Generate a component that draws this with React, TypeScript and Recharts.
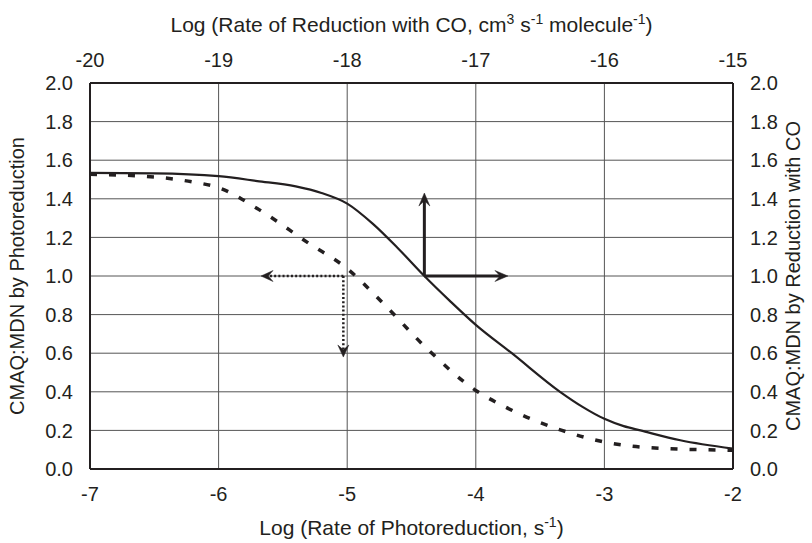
import React from 'react';
import { LineChart, Line, XAxis, YAxis, CartesianGrid, ReferenceLine } from 'recharts';

// bottom axis: Log (Rate of Photoreduction, s-1)
const bottomTicks = [-7, -6, -5, -4, -3, -2];
// top axis: Log (Rate of Reduction with CO)
const topTicks = [-20, -19, -18, -17, -16, -15];
const yTicks = [0, 0.2, 0.4, 0.6, 0.8, 1.0, 1.2, 1.4, 1.6, 1.8, 2.0];

// dashed curve: CMAQ:MDN vs photoreduction rate (bottom / left axes)
const photoX = [-7, -6.5, -6.2, -6, -5.7, -5.3, -5, -4.72, -4.38, -4, -3.77, -3.33, -3, -2.67, -2];
const photoY = [1.527, 1.513, 1.487, 1.458, 1.35, 1.17, 1.038, 0.858, 0.624, 0.407, 0.321, 0.2, 0.14, 0.111, 0.097];

// solid curve: CMAQ:MDN vs CO reduction rate (top / right axes)
const coX = [-20, -19.5, -19, -18.7, -18.4, -18.2, -18, -17.8, -17.6, -17.4, -17.2, -17, -16.72, -16.345, -16.17, -16, -15.85, -15.72, -15.41, -15];
const coY = [1.534, 1.532, 1.517, 1.492, 1.464, 1.43, 1.375, 1.27, 1.14, 1.0, 0.87, 0.747, 0.6, 0.4, 0.322, 0.26, 0.222, 0.2, 0.149, 0.106];

// annotation arrows (data units)
const coArrowOrigin = { x: -17.4, y: 1.0 };
const coArrowUpTip = { x: -17.4, y: 1.43 };
const coArrowRightTip = { x: -16.75, y: 1.0 };
const photoArrowOrigin = { x: -5.03, y: 1.0 };
const photoArrowLeftTip = { x: -5.67, y: 1.0 };
const photoArrowDownTip = { x: -5.03, y: 0.58 };

const photoData = photoX.map((x, i) => ({ x, y: photoY[i] }));
const coData = coX.map((x, i) => ({ x, y: coY[i] }));

const INK = '#231f20';
const FONT = '"Liberation Sans", Arial, Helvetica, sans-serif';

const makeArrow = (width: number, dash: string | undefined, len: number, half: number) => (p: any) => {
  const { x1, y1, x2, y2 } = p;
  if ([x1, y1, x2, y2].some((v) => typeof v !== 'number' || isNaN(v))) return null;
  const dx = x2 - x1;
  const dy = y2 - y1;
  const d = Math.sqrt(dx * dx + dy * dy) || 1;
  const ux = dx / d;
  const uy = dy / d;
  const nx = -uy;
  const ny = ux;
  const bx = x2 - ux * len;
  const by = y2 - uy * len;
  const mx = x2 - ux * len * 0.6;
  const my = y2 - uy * len * 0.6;
  const pts = [
    [x2, y2],
    [bx + nx * half, by + ny * half],
    [mx, my],
    [bx - nx * half, by - ny * half],
  ]
    .map((q) => q.join(','))
    .join(' ');
  return (
    <g>
      <line x1={x1} y1={y1} x2={mx} y2={my} stroke={INK} strokeWidth={width} strokeDasharray={dash} />
      <polygon points={pts} fill={INK} stroke={INK} strokeWidth={0.5} />
    </g>
  );
};

const solidArrow = makeArrow(3, undefined, 13, 5.5);
const dottedArrow = makeArrow(2.5, '2 2.2', 12, 5.5);

const BottomTitle = (props: any) => {
  const vb = props.viewBox;
  return (
    <text x={vb.x + vb.width / 2} y={vb.y + 66} textAnchor="middle" fontFamily={FONT} fontSize={21} fill={INK}>
      Log (Rate of Photoreduction, s
      <tspan dy={-8} fontSize={14}>-1</tspan>
      <tspan dy={8}>)</tspan>
    </text>
  );
};

const TopTitle = (props: any) => {
  const vb = props.viewBox;
  return (
    <text x={vb.x + vb.width / 2} y={vb.y + 32} textAnchor="middle" fontFamily={FONT} fontSize={21} fill={INK}>
      Log (Rate of Reduction with CO, cm
      <tspan dy={-8} fontSize={14}>3</tspan>
      <tspan dy={8}> s</tspan>
      <tspan dy={-8} fontSize={14}>-1</tspan>
      <tspan dy={8}> molecule</tspan>
      <tspan dy={-8} fontSize={14}>-1</tspan>
      <tspan dy={8}>)</tspan>
    </text>
  );
};

const LeftTitle = (props: any) => {
  const vb = props.viewBox;
  const cx = vb.x + 24;
  const cy = vb.y + vb.height / 2;
  return (
    <text x={cx} y={cy} transform={`rotate(-90 ${cx} ${cy})`} textAnchor="middle" fontFamily={FONT} fontSize={20} fill={INK}>
      CMAQ:MDN by Photoreduction
    </text>
  );
};

const RightTitle = (props: any) => {
  const vb = props.viewBox;
  const cx = vb.x + vb.width - 12;
  const cy = vb.y + vb.height / 2;
  return (
    <text x={cx} y={cy} transform={`rotate(-90 ${cx} ${cy})`} textAnchor="middle" fontFamily={FONT} fontSize={20} fill={INK}>
      CMAQ:MDN by Reduction with CO
    </text>
  );
};

const tickStyle = { fontFamily: FONT, fontSize: 20, fill: INK };
const fmtY = (v: number) => v.toFixed(1);

export default function App() {
  return (
    <div style={{ position: 'absolute', left: 0, top: 0, background: '#fff' }}>
      <LineChart width={812} height={543} margin={{ top: 0, right: 0, bottom: 0, left: 0 }}>
        <CartesianGrid
          xAxisId="bottom"
          yAxisId="left"
          stroke="#555"
          strokeWidth={1}
          horizontal
          vertical
        />
        <XAxis
          xAxisId="bottom"
          dataKey="x"
          type="number"
          domain={[-7, -2]}
          ticks={bottomTicks}
          allowDataOverflow
          orientation="bottom"
          height={74}
          tickLine={false}
          axisLine={{ stroke: INK, strokeWidth: 2 }}
          tick={tickStyle}
          tickMargin={12}
          label={<BottomTitle />}
        />
        <XAxis
          xAxisId="top"
          dataKey="x"
          type="number"
          domain={[-20, -15]}
          ticks={topTicks}
          allowDataOverflow
          orientation="top"
          height={83}
          tickLine={false}
          axisLine={{ stroke: INK, strokeWidth: 2 }}
          tick={tickStyle}
          tickMargin={10}
          label={<TopTitle />}
        />
        <YAxis
          yAxisId="left"
          type="number"
          domain={[0, 2]}
          ticks={yTicks}
          allowDataOverflow
          orientation="left"
          width={90}
          tickLine={false}
          axisLine={{ stroke: INK, strokeWidth: 2 }}
          tick={tickStyle}
          tickFormatter={fmtY}
          tickMargin={11}
          label={<LeftTitle />}
        />
        <YAxis
          yAxisId="right"
          type="number"
          domain={[0, 2]}
          ticks={yTicks}
          allowDataOverflow
          orientation="right"
          width={79}
          tickLine={false}
          axisLine={{ stroke: INK, strokeWidth: 2 }}
          tick={tickStyle}
          tickFormatter={fmtY}
          tickMargin={11}
          label={<RightTitle />}
        />
        <Line
          data={photoData}
          xAxisId="bottom"
          yAxisId="left"
          dataKey="y"
          type="monotone"
          stroke={INK}
          strokeWidth={3.5}
          strokeDasharray="7 12"
          dot={false}
          activeDot={false}
          isAnimationActive={false}
        />
        <Line
          data={coData}
          xAxisId="top"
          yAxisId="right"
          dataKey="y"
          type="monotone"
          stroke={INK}
          strokeWidth={2.2}
          dot={false}
          activeDot={false}
          isAnimationActive={false}
        />
        <ReferenceLine
          xAxisId="top"
          yAxisId="right"
          segment={[coArrowOrigin, coArrowUpTip]}
          shape={solidArrow}
        />
        <ReferenceLine
          xAxisId="top"
          yAxisId="right"
          segment={[coArrowOrigin, coArrowRightTip]}
          shape={solidArrow}
        />
        <ReferenceLine
          xAxisId="bottom"
          yAxisId="left"
          segment={[photoArrowOrigin, photoArrowLeftTip]}
          shape={dottedArrow}
        />
        <ReferenceLine
          xAxisId="bottom"
          yAxisId="left"
          segment={[photoArrowOrigin, photoArrowDownTip]}
          shape={dottedArrow}
        />
      </LineChart>
    </div>
  );
}
